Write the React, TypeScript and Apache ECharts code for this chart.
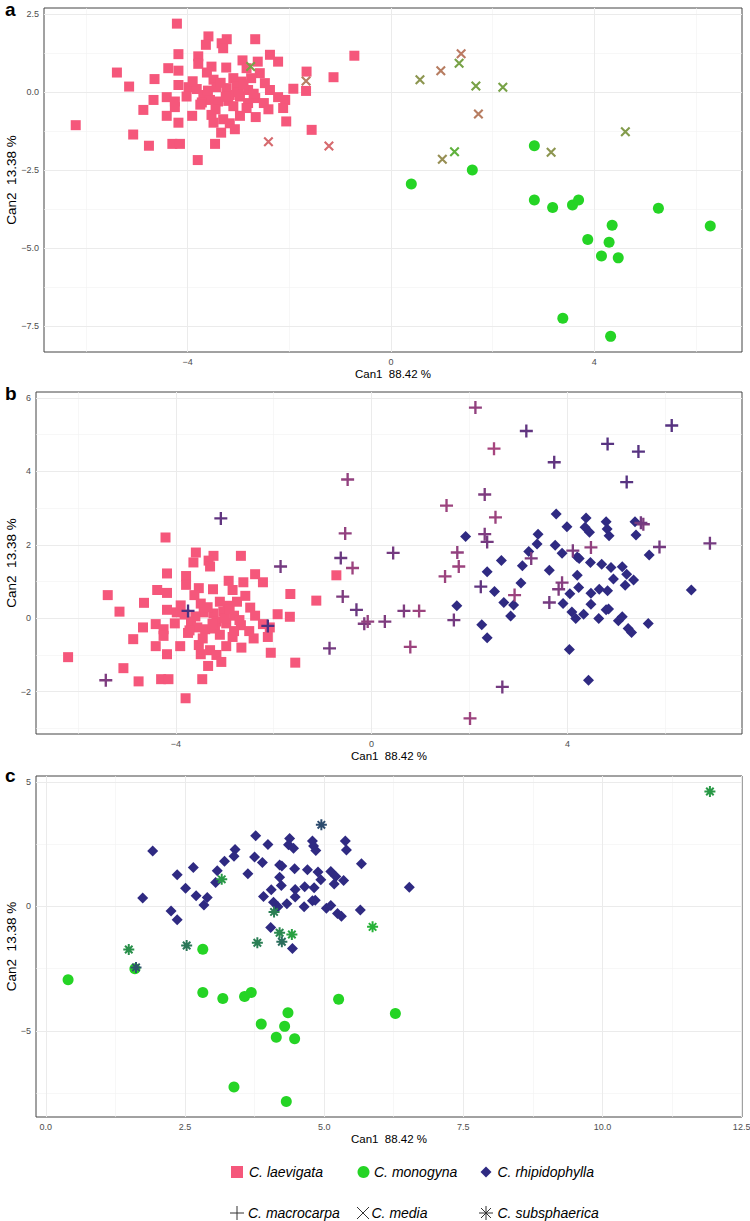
import React, { useEffect, useRef } from 'react';
import * as echarts from 'echarts';

// ---------- data (Can1, Can2) ----------
const laevigata: [number, number][] = [
  [-4.21,2.20],[-3.59,1.79],[-3.23,1.70],[-2.67,1.70],[-3.64,1.52],[-3.33,1.57],[-3.30,1.41],[-4.18,1.22],[-3.79,1.15],[-2.38,1.20],
  [-2.22,0.98],[-2.92,1.02],[-2.62,0.98],[-0.72,1.17],[-3.79,0.91],[-3.53,0.82],[-3.24,0.79],[-2.84,0.77],[-4.38,0.77],[-4.18,0.69],
  [-5.39,0.63],[-4.65,0.42],[-5.15,0.18],[-3.62,0.63],[-2.58,0.61],[-3.49,0.40],[-3.10,0.45],[-2.94,0.34],[-2.48,0.29],[-1.66,0.66],
  [-1.13,0.48],[-4.18,0.23],[-3.98,0.16],[-3.82,0.10],[-3.43,0.16],[-3.23,0.13],[-3.03,0.18],[-2.81,0.07],[-2.38,0.07],[-1.92,0.11],
  [-1.67,0.04],[-4.41,-0.16],[-4.02,-0.14],[-3.69,-0.09],[-3.56,-0.25],[-3.17,-0.09],[-2.97,-0.14],[-2.67,-0.19],[-2.22,-0.16],[-4.67,-0.25],
  [-4.25,-0.30],[-3.72,-0.33],[-3.40,-0.30],[-3.20,-0.28],[-2.81,-0.35],[-2.08,-0.25],[-4.87,-0.57],[-4.25,-0.48],[-2.41,-0.55],[-2.12,-0.51],
  [-2.84,-0.51],[-4.41,-0.76],[-3.91,-0.76],[-3.53,-0.73],[-2.97,-0.76],[-2.66,-0.80],[-4.18,-0.98],[-3.49,-0.98],[-3.30,-0.87],[-3.17,-1.00],
  [-2.06,-0.94],[-6.20,-1.06],[-5.07,-1.36],[-3.34,-1.30],[-3.07,-1.19],[-1.56,-1.21],[-4.76,-1.72],[-4.30,-1.66],[-4.15,-1.66],[-3.46,-1.66],
  [-3.80,-2.18],[-3.35,0.30],[-3.00,0.00],[-3.60,0.05],[-2.75,0.45],[-3.10,-0.45],[-2.70,-0.05],[-3.45,-0.55],[-3.90,0.35],[-2.90,0.25],
  [-3.25,-0.15],[-3.75,-0.40],[-2.50,-0.35]
];

const monogyna: [number, number][] = [
  [2.82,-1.72],[1.60,-2.50],[0.40,-2.95],[2.82,-3.46],[3.18,-3.70],[3.57,-3.62],[3.69,-3.46],[5.26,-3.73],
  [4.35,-4.27],[6.28,-4.30],[3.87,-4.73],[4.29,-4.82],[4.14,-5.26],[4.47,-5.32],[3.38,-7.26],[4.32,-7.84]
];

const rhipidophylla: [number, number][] = [
  [3.77,2.84],[4.38,2.73],[3.99,2.49],[4.36,2.48],[4.45,2.34],[4.79,2.63],[4.81,2.43],[4.85,2.25],[5.38,2.63],[5.40,2.27],
  [1.92,2.23],[3.40,2.29],[3.38,2.02],[3.75,1.99],[3.21,1.82],[3.89,1.77],[4.20,1.67],[4.24,1.63],[4.47,1.52],[4.70,1.47],
  [4.89,1.38],[5.12,1.40],[5.67,1.72],[2.65,1.57],[3.08,1.43],[2.36,1.27],[3.63,1.31],[4.20,1.17],[4.94,1.07],[5.21,1.20],
  [5.35,1.04],[5.18,0.90],[3.05,0.96],[2.51,0.73],[4.23,0.84],[4.05,0.67],[4.48,0.68],[4.65,0.79],[4.82,0.75],[6.53,0.77],
  [1.74,0.34],[2.70,0.43],[2.90,0.36],[3.91,0.40],[4.48,0.38],[4.09,0.17],[4.17,-0.01],[4.33,0.11],[4.79,0.23],[4.84,0.25],
  [2.84,0.06],[4.64,-0.01],[5.04,-0.07],[5.12,0.04],[5.24,-0.28],[5.31,-0.39],[5.65,-0.14],[2.25,-0.18],[2.36,-0.53],[4.04,-0.85],
  [4.43,-1.69]
];

// hybrids: [Can1, Can2, share of second parent]
const media: [number, number, number][] = [
  [-2.76,0.82,0.6],[-1.67,0.36,0.3],[-2.41,-1.59,0.15],[-1.22,-1.73,0.15],[0.57,0.40,0.5],[0.98,0.69,0.3],[1.38,1.23,0.28],
  [1.34,0.93,0.6],[1.67,0.20,0.6],[2.20,0.16,0.6],[1.72,-0.70,0.3],[4.61,-1.27,0.55],[1.25,-1.91,0.72],[1.01,-2.15,0.45],[3.15,-1.93,0.5]
];

const macrocarpa: [number, number, number][] = [
  [-3.08,2.72,0.75],[-3.75,0.20,0.85],[-2.12,-0.21,0.85],[-5.43,-1.69,0.6],[-1.86,1.41,0.65],[-0.49,3.78,0.5],[-0.54,2.31,0.5],
  [-0.63,1.64,0.7],[-0.39,1.37,0.45],[-0.59,0.59,0.6],[-0.31,0.23,0.7],[-0.15,-0.15,0.6],[-0.08,-0.09,0.5],[-0.86,-0.82,0.65],
  [0.27,-0.09,0.6],[2.12,5.74,0.5],[3.16,5.10,0.75],[2.50,4.62,0.4],[3.73,4.25,0.75],[4.82,4.75,0.8],[5.45,4.54,0.8],[6.13,5.25,0.8],
  [5.21,3.71,0.8],[2.31,3.37,0.6],[1.53,3.07,0.45],[2.53,2.75,0.45],[2.31,2.29,0.6],[2.36,2.08,0.65],[1.75,1.79,0.5],[1.78,1.41,0.45],
  [1.50,1.14,0.45],[0.44,1.78,0.65],[2.23,0.86,0.75],[0.66,0.20,0.6],[0.97,0.20,0.45],[1.68,-0.05,0.65],[0.79,-0.78,0.45],
  [2.67,-1.87,0.65],[2.01,-2.73,0.45],[2.92,0.63,0.45],[3.26,1.63,0.6],[3.63,0.43,0.65],[3.89,0.97,0.55],[3.82,0.79,0.6],
  [4.11,1.84,0.6],[4.48,1.93,0.5],[5.55,2.56,0.6],[5.50,2.60,0.65],[5.88,1.94,0.65],[6.91,2.04,0.65]
];

const subsphaerica: [number, number, number][] = [
  [4.95,3.28,0.8],[3.16,1.09,0.35],[4.10,-0.22,0.5],[4.20,-1.06,0.45],[4.24,-1.42,0.6],[4.42,-1.13,0.3],
  [3.80,-1.46,0.5],[2.53,-1.57,0.55],[1.49,-1.73,0.4],[1.62,-2.45,0.75],[5.87,-0.82,0.2],[11.93,4.62,0.35]
];

// axis breaks
const xMajorAB = [-4, 0, 4];
const xMinorAB = [-6, -2, 2, 6];
const yMajorA = [-7.5, -5, -2.5, 0, 2.5];
const yMinorA = [-6.25, -3.75, -1.25, 1.25];
const yMajorB = [-2, 0, 2, 4, 6];
const yMinorB = [-3, -1, 1, 3, 5];
const xMajorC = [0, 2.5, 5, 7.5, 10, 12.5];
const xMinorC = [1.25, 3.75, 6.25, 8.75, 11.25];
const yMajorC = [-5, 0, 5];
const yMinorC = [-7.5, -2.5, 2.5];

// ---------- styling ----------
const FONT = '"Liberation Sans", Arial, Helvetica, sans-serif';
const COL_LAE = '#F5577B';
const COL_MON = '#25D425';
const COL_RHI = '#2F2A82';

const PLUS = 'path://M4.1,0H5.9V4.1H10V5.9H5.9V10H4.1V5.9H0V4.1H4.1Z';
const CROSS = 'path://M1.5,0L10,8.5L8.5,10L0,1.5ZM8.5,0L10,1.5L1.5,10L0,8.5Z';
const STAR = 'path://M4.1,0H5.9V4.1H10V5.9H5.9V10H4.1V5.9H0V4.1H4.1Z' +
  'M2.24,0.96L9.04,7.76L7.76,9.04L0.96,2.24Z' +
  'M7.76,0.96L9.04,2.24L2.24,9.04L0.96,7.76Z';

function hex2rgb(h: string) {
  const n = parseInt(h.slice(1), 16);
  return [(n >> 16) & 255, (n >> 8) & 255, n & 255];
}
function mix(a: string, b: string, p: number) {
  const A = hex2rgb(a), B = hex2rgb(b);
  const c = A.map((v, i) => Math.round(v * (1 - p) + B[i] * p));
  return 'rgb(' + c.join(',') + ')';
}
function ext(vals: number[]): [number, number] {
  const mn = Math.min(...vals), mx = Math.max(...vals), r = mx - mn;
  return [mn - 0.05 * r, mx + 0.05 * r];
}
const fmtInt = (v: number) => String(Math.round(v)).replace('-', '\u2212');
const fmt1 = (v: number) => v.toFixed(1).replace('-', '\u2212');

const GRIDS = [
  { left: 44, top: 8, width: 698, height: 344 },
  { left: 36, top: 392, width: 706, height: 342 },
  { left: 36, top: 776, width: 706, height: 341 },
];

function xAxis(gi: number, range: [number, number], ticks: number[], fmt: (v: number) => string) {
  return {
    type: 'value', gridIndex: gi, min: range[0], max: range[1],
    name: 'Can1  88.42 %', nameLocation: 'middle', nameGap: 16,
    nameTextStyle: { color: '#000', fontSize: 11.5, fontFamily: FONT },
    axisLine: { show: false },
    axisTick: { show: true, customValues: ticks, length: 3, lineStyle: { color: '#333', width: 1 } },
    axisLabel: { customValues: ticks, formatter: fmt, color: '#4D4D4D', fontSize: 9, margin: 5, fontFamily: FONT },
    splitLine: { show: false },
  };
}
function yAxis(gi: number, range: [number, number], ticks: number[], fmt: (v: number) => string) {
  return {
    type: 'value', gridIndex: gi, min: range[0], max: range[1],
    axisLine: { show: false },
    axisTick: { show: true, customValues: ticks, length: 3, lineStyle: { color: '#333', width: 1 } },
    axisLabel: { customValues: ticks, formatter: fmt, color: '#4D4D4D', fontSize: 9, margin: 5, fontFamily: FONT },
    splitLine: { show: false },
  };
}
function gridLines(gi: number, xMaj: number[], xMin: number[], yMaj: number[], yMin: number[]) {
  const minor = { color: '#F2F2F2', width: 0.6, type: 'solid' };
  return {
    type: 'scatter', xAxisIndex: gi, yAxisIndex: gi, data: [], silent: true, z: 1,
    markLine: {
      silent: true, symbol: ['none', 'none'], label: { show: false }, animation: false, z: 1,
      lineStyle: { color: '#EBEBEB', width: 1, type: 'solid' },
      emphasis: { disabled: true },
      data: [
        ...xMin.map(v => ({ xAxis: v, lineStyle: minor })),
        ...yMin.map(v => ({ yAxis: v, lineStyle: minor })),
        ...xMaj.map(v => ({ xAxis: v })),
        ...yMaj.map(v => ({ yAxis: v })),
      ],
    },
  };
}
function pts(gi: number, data: [number, number][], symbol: string, size: number, color: string) {
  return {
    type: 'scatter', xAxisIndex: gi, yAxisIndex: gi, symbol, symbolSize: size, z: 3,
    itemStyle: { color, opacity: 1 }, data, silent: true,
  };
}
function hyb(gi: number, data: [number, number, number][], symbol: string, size: number, c1: string, c2: string) {
  return {
    type: 'scatter', xAxisIndex: gi, yAxisIndex: gi, symbol, symbolSize: size, z: 4, silent: true,
    itemStyle: { opacity: 1 },
    data: data.map(d => ({ value: [d[0], d[1]], itemStyle: { color: mix(c1, c2, d[2]), opacity: 1 } })),
  };
}

export default function App() {
  const ref = useRef<HTMLDivElement>(null);
  useEffect(() => {
    if (!ref.current) return;
    const chart = echarts.init(ref.current, undefined, { renderer: 'svg' });

    const xa = ext([...laevigata, ...monogyna, ...media].map(d => d[0]));
    const ya = ext([...laevigata, ...monogyna, ...media].map(d => d[1]));
    const xb = ext([...laevigata, ...rhipidophylla, ...macrocarpa].map(d => d[0]));
    const yb = ext([...laevigata, ...rhipidophylla, ...macrocarpa].map(d => d[1]));
    const xc = ext([...monogyna, ...rhipidophylla, ...subsphaerica].map(d => d[0]));
    const yc = ext([...monogyna, ...rhipidophylla, ...subsphaerica].map(d => d[1]));

    const letter = (t: string, y: number) => ({
      type: 'text', left: 5, top: y,
      style: { text: t, fontSize: 19, fontWeight: 'bold', fontFamily: FONT, fill: '#000' },
    });
    const yTitle = (cy: number) => ({
      type: 'text', x: 11.5, y: cy, rotation: Math.PI / 2,
      style: { text: 'Can2  13.38 %', fontSize: 13.5, fontFamily: FONT, fill: '#000', align: 'center', verticalAlign: 'middle' },
    });
    const txt = (t: string, x: number, y: number) => ({
      type: 'text', x, y,
      style: { text: t, fontSize: 14, fontStyle: 'italic', fontFamily: FONT, fill: '#000', verticalAlign: 'middle', align: 'left' },
    });
    const ln = (x1: number, y1: number, x2: number, y2: number) => ({
      type: 'line', shape: { x1, y1, x2, y2 }, style: { stroke: '#333', lineWidth: 1 },
    });

    const r1 = 1172, r2 = 1213;
    const graphic = [
      letter('a', 0), letter('b', 384), letter('c', 766),
      ...GRIDS.map(g => yTitle(g.top + g.height / 2)),
      { type: 'rect', shape: { x: 231, y: r1 - 6, width: 12, height: 12 }, style: { fill: COL_LAE } },
      txt('C. laevigata', 249, r1),
      { type: 'circle', shape: { cx: 363.5, cy: r1, r: 6 }, style: { fill: COL_MON } },
      txt('C. monogyna', 374, r1),
      { type: 'polygon', shape: { points: [[486, r1 - 5.5], [491.5, r1], [486, r1 + 5.5], [480.5, r1]] }, style: { fill: COL_RHI } },
      txt('C. rhipidophylla', 497.5, r1),
      ln(230, r2, 244, r2), ln(237, r2 - 7, 237, r2 + 7),
      txt('C. macrocarpa', 248, r2),
      ln(357, r2 - 6, 369, r2 + 6), ln(357, r2 + 6, 369, r2 - 6),
      txt('C. media', 371.5, r2),
      ln(479, r2, 493, r2), ln(486, r2 - 7, 486, r2 + 7), ln(481, r2 - 5, 491, r2 + 5), ln(481, r2 + 5, 491, r2 - 5),
      txt('C. subsphaerica', 497.5, r2),
    ];

    chart.setOption({
      animation: false,
      backgroundColor: '#fff',
      grid: GRIDS.map(g => ({
        ...g, show: true, borderColor: '#444', borderWidth: 1, backgroundColor: 'transparent',
        containLabel: false, outerBoundsMode: 'none',
      })),
      xAxis: [
        xAxis(0, xa, xMajorAB, fmtInt),
        xAxis(1, xb, xMajorAB, fmtInt),
        xAxis(2, xc, xMajorC, fmt1),
      ],
      yAxis: [
        yAxis(0, ya, yMajorA, fmt1),
        yAxis(1, yb, yMajorB, fmtInt),
        yAxis(2, yc, yMajorC, fmtInt),
      ],
      graphic,
      series: [
        gridLines(0, xMajorAB, xMinorAB, yMajorA, yMinorA),
        gridLines(1, xMajorAB, xMinorAB, yMajorB, yMinorB),
        gridLines(2, xMajorC, xMinorC, yMajorC, yMinorC),
        pts(0, laevigata, 'rect', 10, COL_LAE),
        pts(0, monogyna, 'circle', 11, COL_MON),
        hyb(0, media, CROSS, 10, COL_LAE, COL_MON),
        pts(1, laevigata, 'rect', 10, COL_LAE),
        pts(1, rhipidophylla, 'diamond', 11, COL_RHI),
        hyb(1, macrocarpa, PLUS, 13, COL_LAE, COL_RHI),
        pts(2, rhipidophylla, 'diamond', 11, COL_RHI),
        pts(2, monogyna, 'circle', 11, COL_MON),
        hyb(2, subsphaerica, STAR, 11, COL_MON, COL_RHI),
      ],
    });
    return () => chart.dispose();
  }, []);
  return <div ref={ref} style={{ position: 'absolute', left: 0, top: 0, width: 750, height: 1221 }} />;
}
